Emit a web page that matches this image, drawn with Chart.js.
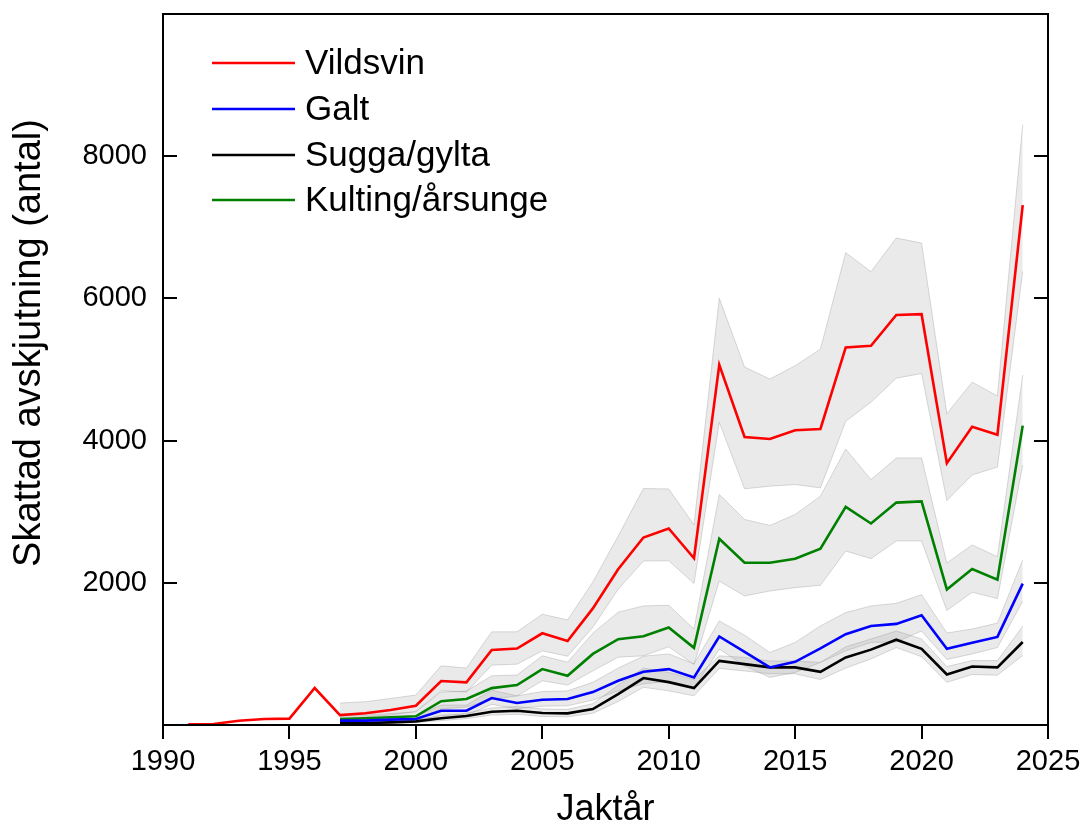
<!DOCTYPE html>
<html>
<head>
<meta charset="utf-8">
<script src="https://cdn.jsdelivr.net/npm/chart.js@4.4.1/dist/chart.umd.min.js"></script>
<style>
  html, body { margin: 0; padding: 0; background: #fff; }
  #wrap { width: 1083px; height: 834px; }
</style>
</head>
<body>
<div id="wrap"><canvas id="c" width="1083" height="834"></canvas></div>
<script>
// ───── Data ──────────────────────────────────────────────────────────────
const yearsAll = [1991, 1992, 1993, 1994, 1995, 1996, 1997, 1998, 1999, 2000,
  2001, 2002, 2003, 2004, 2005, 2006, 2007, 2008, 2009, 2010, 2011, 2012,
  2013, 2014, 2015, 2016, 2017, 2018, 2019, 2020, 2021, 2022, 2023, 2024];
const years = [1997, 1998, 1999, 2000, 2001, 2002, 2003, 2004, 2005, 2006,
  2007, 2008, 2009, 2010, 2011, 2012, 2013, 2014, 2015, 2016, 2017, 2018,
  2019, 2020, 2021, 2022, 2023, 2024];

// Vildsvin (total), 1991-2024
const vildsvin = [10, 15, 60, 85, 90, 520, 140, 165, 210, 270, 618, 600, 1055,
  1075, 1290, 1180, 1640, 2190, 2637, 2765, 2345, 5067, 4051, 4023, 4145, 4164,
  5310, 5333, 5767, 5778, 3683, 4194, 4083, 7311];
// Bands, 1997-2024
const vildsvinHi = [309, 327, 374, 421, 833, 800, 1310, 1310, 1558, 1478, 2011,
  2657, 3326, 3320, 2815, 6002, 5034, 4866, 5053, 5286, 6643, 6376, 6850, 6778,
  4378, 4822, 4628, 8444];
const vildsvinLo = [90, 110, 140, 190, 482, 463, 842, 856, 1043, 968, 1375,
  1909, 2306, 2310, 1990, 4257, 3322, 3359, 3382, 3335, 4271, 4540, 4878, 4944,
  3156, 3517, 3628, 6378];

const galt = [61, 61, 75, 84, 201, 201, 379, 309, 355, 365, 463, 622, 748, 786,
  669, 1245, 1029, 810, 889, 1077, 1277, 1392, 1422, 1544, 1072, 1156, 1239, 1989];
const galtHi = [85, 88, 105, 120, 280, 280, 490, 410, 470, 480, 600, 800, 968,
  1000, 860, 1464, 1263, 1020, 1161, 1394, 1581, 1675, 1711, 1833, 1294, 1350,
  1433, 2322];
const galtLo = [40, 40, 50, 55, 140, 140, 290, 230, 265, 270, 350, 480, 580, 610,
  520, 1067, 833, 669, 739, 880, 1043, 1161, 1167, 1322, 922, 1000, 1089, 1739];

const sugga = [28, 28, 37, 51, 94, 126, 187, 201, 168, 164, 225, 435, 660, 603,
  519, 902, 856, 810, 810, 748, 950, 1060, 1200, 1072, 711, 822, 811, 1167];
const suggaHi = [40, 40, 52, 70, 130, 165, 240, 260, 225, 220, 300, 560, 800,
  740, 640, 973, 950, 900, 900, 880, 1100, 1210, 1322, 1211, 822, 906, 906, 1389];
const suggaLo = [18, 18, 24, 34, 62, 90, 140, 150, 120, 115, 165, 330, 530, 480,
  410, 796, 760, 720, 720, 640, 800, 930, 1089, 961, 600, 711, 700, 978];

const kulting = [84, 94, 108, 122, 335, 365, 519, 561, 786, 692, 1000, 1207,
  1249, 1372, 1085, 2620, 2283, 2283, 2339, 2480, 3069, 2834, 3128, 3144, 1906,
  2194, 2044, 4211];
const kultingHi = [130, 140, 160, 185, 463, 477, 692, 702, 973, 884, 1291, 1586,
  1675, 1684, 1350, 3242, 2891, 2807, 2961, 3219, 3882, 3450, 3756, 3756, 2278,
  2533, 2367, 4922];
const kultingLo = [50, 55, 65, 80, 225, 253, 365, 407, 622, 561, 762, 954, 973,
  1100, 850, 2025, 1815, 1885, 1932, 1965, 2447, 2340, 2589, 2589, 1611, 1867,
  1778, 3656];

const xTicks = [1990, 1995, 2000, 2005, 2010, 2015, 2020, 2025];
const yTicks = [2000, 4000, 6000, 8000];
const yTitle = 'Skattad avskjutning (antal)';

const FONT = '"Liberation Sans", Arial, Helvetica, sans-serif';
const BAND_FILL = 'rgba(150, 150, 150, 0.2)';
const BAND_EDGE = 'rgba(150, 150, 150, 0.35)';
const LINE_W = 2.6;

const pts = (xs, ys) => xs.map((x, i) => ({ x, y: ys[i] }));

// Band = invisible lower edge + upper edge filled down to it.
function band(name, lo, hi) {
  return [
    { label: `${name} lo`, data: pts(years, lo), borderColor: BAND_EDGE,
      borderWidth: 1, pointRadius: 0, fill: false, order: 2 },
    { label: `${name} hi`, data: pts(years, hi), borderColor: BAND_EDGE,
      borderWidth: 1, pointRadius: 0, fill: '-1', backgroundColor: BAND_FILL, order: 2 },
  ];
}

const series = [
  { name: 'Vildsvin', color: '#ff0000', xs: yearsAll, ys: vildsvin },
  { name: 'Galt', color: '#0000ff', xs: years, ys: galt },
  { name: 'Sugga/gylta', color: '#000000', xs: years, ys: sugga },
  { name: 'Kulting/årsunge', color: '#008000', xs: years, ys: kulting },
];

const datasets = [
  ...band('Vildsvin', vildsvinLo, vildsvinHi),
  ...band('Kulting', kultingLo, kultingHi),
  ...band('Galt', galtLo, galtHi),
  ...band('Sugga', suggaLo, suggaHi),
  ...series.map((s) => ({
    label: s.name, data: pts(s.xs, s.ys), borderColor: s.color,
    borderWidth: LINE_W, pointRadius: 0, fill: false, order: 0,
  })),
];

// Frame, inward y ticks, y title and the legend inside the plot.
const framePlugin = {
  id: 'frame',
  afterDraw(chart) {
    const { ctx, chartArea: a, scales: { y } } = chart;
    ctx.save();
    ctx.strokeStyle = '#000';
    ctx.lineWidth = 2;
    ctx.strokeRect(a.left, a.top, a.right - a.left, a.bottom - a.top);
    ctx.beginPath();
    yTicks.forEach((v) => {
      const py = Math.round(y.getPixelForValue(v));
      ctx.moveTo(a.left, py); ctx.lineTo(a.left + 14, py);
      ctx.moveTo(a.right - 14, py); ctx.lineTo(a.right, py);
    });
    ctx.stroke();

    // y title (sits a bit above the centre of the axis in the original)
    ctx.save();
    ctx.translate(30, 343);
    ctx.rotate(-Math.PI / 2);
    ctx.font = `38px ${FONT}`;
    ctx.fillStyle = '#000';
    ctx.textAlign = 'center';
    ctx.textBaseline = 'middle';
    ctx.fillText(yTitle, 0, 0);
    ctx.restore();

    // Legend
    const rows = [63, 109, 155, 200];
    ctx.font = `35px ${FONT}`;
    ctx.textBaseline = 'middle';
    ctx.textAlign = 'left';
    series.forEach((s, i) => {
      ctx.strokeStyle = s.color;
      ctx.lineWidth = LINE_W;
      ctx.beginPath();
      ctx.moveTo(212, rows[i]); ctx.lineTo(295, rows[i]);
      ctx.stroke();
      ctx.fillStyle = '#000';
      ctx.fillText(s.name, 305, rows[i] + 1);
    });
    ctx.restore();
  },
};

new Chart(document.getElementById('c'), {
  type: 'line',
  data: { datasets },
  plugins: [framePlugin],
  options: {
    responsive: false,
    animation: false,
    layout: { padding: { top: 14, right: 35, left: 0, bottom: 0 } },
    plugins: { legend: { display: false }, tooltip: { enabled: false } },
    elements: { line: { tension: 0 } },
    scales: {
      x: {
        type: 'linear', min: 1990, max: 2025,
        afterFit: (s) => { s.height = 109; s.paddingLeft = 0; s.paddingRight = 0; },
        afterBuildTicks: (s) => { s.ticks = xTicks.map((v) => ({ value: v })); },
        ticks: { callback: (v) => String(v), color: '#000', padding: 6,
          font: { family: FONT, size: 29 }, maxRotation: 0 },
        grid: { display: true, drawOnChartArea: false, drawTicks: true,
          tickLength: 14, color: '#000', lineWidth: 2 },
        border: { display: false },
        title: { display: true, text: 'Jaktår', color: '#000',
          font: { family: FONT, size: 36 }, padding: { top: 0, bottom: 2 } },
      },
      y: {
        type: 'linear', min: 0, max: 10000,
        afterFit: (s) => { s.width = 163; s.paddingTop = 0; s.paddingBottom = 0; },
        afterBuildTicks: (s) => { s.ticks = yTicks.map((v) => ({ value: v })); },
        ticks: { callback: (v) => String(v), color: '#000', padding: 16,
          font: { family: FONT, size: 29 } },
        grid: { display: false, drawTicks: false },
        border: { display: false },
        title: { display: false },
      },
    },
  },
});
</script>
</body>
</html>
